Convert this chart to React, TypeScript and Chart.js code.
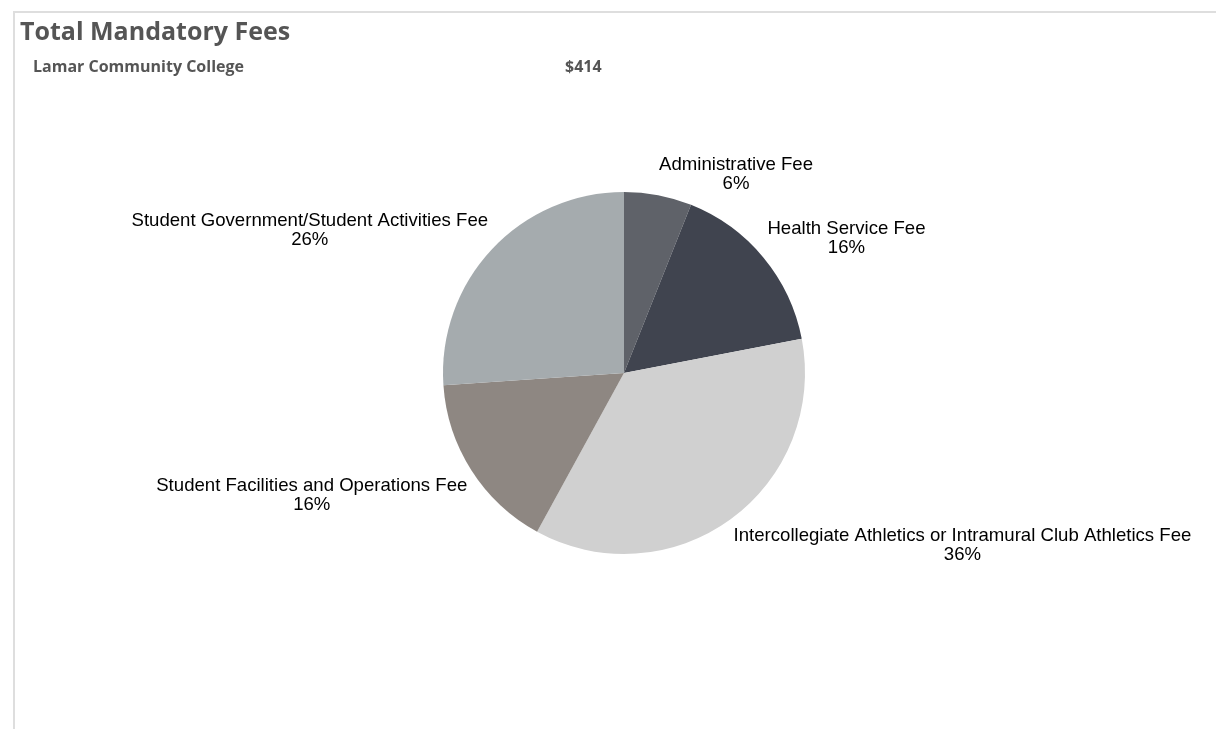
import React, { useEffect, useRef } from "react";
import { Chart, registerables } from "chart.js";

Chart.register(...registerables);

const categories = [
  "Administrative Fee",
  "Health Service Fee",
  "Intercollegiate Athletics or Intramural Club Athletics Fee",
  "Student Facilities and Operations Fee",
  "Student Government/Student Activities Fee",
];
const feeValues = [25, 66, 149, 66, 108];
const sliceColors = ["#5f6269", "#40444f", "#d0d0d0", "#8e8782", "#a5abae"];
const titleText = "Total Mandatory Fees";
const collegeName = "Lamar Community College";

const LABEL_FONT = "18.6px 'Liberation Sans', Arial, sans-serif";
const LINE_H = 19;
const LABEL_GAP = 5;
const LABEL_SHIFT_Y = 3;

const outsideLabels = {
  id: "outsideLabels",
  afterDatasetsDraw(chart: any) {
    const ctx = chart.ctx;
    const meta = chart.getDatasetMeta(0);
    const data = chart.data.datasets[0].data as number[];
    const total = data.reduce((a, b) => a + b, 0);
    ctx.save();
    ctx.font = LABEL_FONT;
    ctx.fillStyle = "#000";
    ctx.textBaseline = "middle";
    ctx.textAlign = "center";
    meta.data.forEach((arc: any, i: number) => {
      const p = arc.getProps(["x", "y", "startAngle", "endAngle", "outerRadius"], true);
      const mid = (p.startAngle + p.endAngle) / 2;
      const rr = p.outerRadius + LABEL_GAP;
      const ax = p.x + Math.cos(mid) * rr;
      const ay = p.y + Math.sin(mid) * rr;
      const lines = [chart.data.labels[i], Math.round((data[i] / total) * 100) + "%"];
      const w = Math.max(...lines.map((l: string) => ctx.measureText(l).width));
      const h = lines.length * LINE_H;
      // nearest corner of the label box sits on the anchor point
      const cx = Math.cos(mid) >= 0 ? ax + w / 2 : ax - w / 2;
      const cy = (Math.sin(mid) >= 0 ? ay + h / 2 : ay - h / 2) + LABEL_SHIFT_Y;
      lines.forEach((l: string, k: number) => {
        ctx.fillText(l, cx, cy - h / 2 + LINE_H * (k + 0.5));
      });
    });
    ctx.restore();
  },
};

export default function App() {
  const ref = useRef<HTMLCanvasElement>(null);
  useEffect(() => {
    if (!ref.current) return;
    const chart = new Chart(ref.current, {
      type: "pie",
      data: {
        labels: categories,
        datasets: [
          {
            data: feeValues,
            backgroundColor: sliceColors,
            borderWidth: 0,
            hoverOffset: 0,
          },
        ],
      },
      options: {
        animation: false,
        responsive: false,
        layout: { padding: { left: 443, right: 411, top: 192, bottom: 175 } },
        plugins: {
          legend: { display: false },
          tooltip: { enabled: false },
        },
      },
      plugins: [outsideLabels],
    });
    return () => chart.destroy();
  }, []);

  const total = feeValues.reduce((a, b) => a + b, 0);

  const headStyle = {
    position: "fixed" as const,
    fontFamily: "'Open Sans', sans-serif",
    fontWeight: 700,
    color: "#555",
    whiteSpace: "nowrap" as const,
  };

  return (
    <div>
      <div
        style={{
          position: "fixed",
          top: 11,
          left: 13,
          right: 0,
          bottom: 0,
          borderTop: "2px solid #dedede",
          borderLeft: "2px solid #dedede",
        }}
      />
      <canvas
        ref={ref}
        width={1216}
        height={729}
        style={{ position: "fixed", top: 0, left: 0, width: 1216, height: 729 }}
      />
      <div style={{ ...headStyle, left: 20, top: 14, fontSize: 25, lineHeight: "32px" }}>
        {titleText}
      </div>
      <div style={{ ...headStyle, left: 33, top: 55, fontSize: 16, lineHeight: "22px" }}>
        {collegeName}
      </div>
      <div style={{ ...headStyle, left: 565, top: 55, fontSize: 16, lineHeight: "22px" }}>
        {"$" + total}
      </div>
    </div>
  );
}
